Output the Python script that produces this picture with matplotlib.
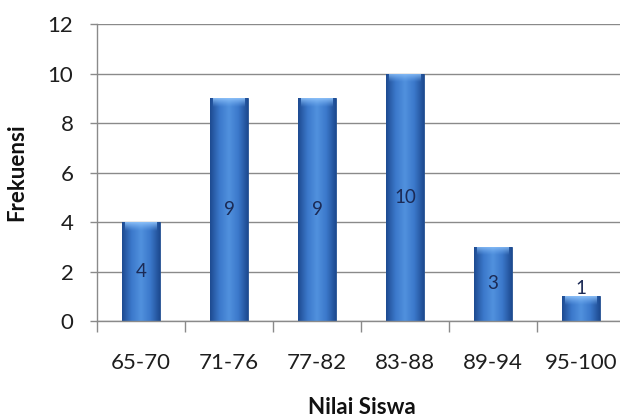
import numpy as np
import matplotlib.pyplot as plt
from matplotlib.colors import LinearSegmentedColormap

# data
categories = ['65-70', '71-76', '77-82', '83-88', '89-94', '95-100']
frekuensi = [4, 9, 9, 10, 3, 1]
y_ticks = [0, 2, 4, 6, 8, 10, 12]

plt.rcParams['font.family'] = ['Lato', 'DejaVu Sans']

fig = plt.figure(figsize=(6.2, 4.19), dpi=100)
ax = fig.add_axes([97/620, 98/419, 528/620, 297/419])

x = np.arange(len(categories))
bars = ax.bar(x, frekuensi, width=0.43, color='#3a74c4', zorder=2)

# cylinder-like shading for each bar
side = LinearSegmentedColormap.from_list('side', ['#1d4a90', '#3b78ca', '#5191de', '#3b78ca', '#1d4a90'])
grad = np.linspace(0, 1, 256).reshape(1, -1)
top = LinearSegmentedColormap.from_list('top', [(0.45, 0.68, 0.95, 0.0), (0.58, 0.78, 0.99, 0.9)])
for b in bars:
    x0, w, h = b.get_x(), b.get_width(), b.get_height()
    im = ax.imshow(grad, cmap=side, aspect='auto', extent=(x0, x0 + w, 0, h), zorder=2.1)
    im.set_clip_path(b)
    cap = min(0.35, h * 0.4)
    vgrad = np.linspace(0, 1, 64).reshape(-1, 1)
    im2 = ax.imshow(vgrad, cmap=top, aspect='auto', origin='lower',
                    extent=(x0 + w * 0.08, x0 + w * 0.92, h - cap, h), zorder=2.2)
    im2.set_clip_path(b)
    b.set_edgecolor('#244f8f')
    b.set_linewidth(0.6)

# value labels in the middle of the bars
for xi, v in zip(x, frekuensi):
    ax.text(xi, max(v / 2, 1.3), str(v), ha='center', va='center',
            fontsize=13.5, color='#1b2a55', zorder=3)

ax.set_xlim(-0.5, len(categories) - 0.5)
ax.set_ylim(0, 12)
ax.set_yticks(y_ticks)
ax.set_xticks(x)
ax.set_xticklabels(categories)
ax.set_xticks(np.arange(-0.5, len(categories), 1), minor=True)
ax.tick_params(axis='x', which='major', length=0, pad=23, labelsize=16, colors='#1e1e1e')
ax.tick_params(axis='x', which='minor', length=8, width=1, color='#8a8a8a')
ax.tick_params(axis='y', length=5, width=1, color='#8a8a8a', pad=12, labelsize=16, labelcolor='#1e1e1e')

ax.grid(axis='y', color='#8a8a8a', linewidth=1, zorder=0)
ax.set_axisbelow(True)
for s in ['top', 'right']:
    ax.spines[s].set_visible(False)
for s in ['left', 'bottom']:
    ax.spines[s].set_color('#8a8a8a')
    ax.spines[s].set_linewidth(1)

fig.text(17/620, 1 - 172/419, 'Frekuensi', fontsize=16, fontweight='bold',
         rotation=90, ha='center', va='center', color='#111111')
fig.text(362/620, 1 - 407/419, 'Nilai Siswa', fontsize=16, fontweight='bold',
         ha='center', va='center', color='#111111')

fig.savefig('out.png', dpi=100)
